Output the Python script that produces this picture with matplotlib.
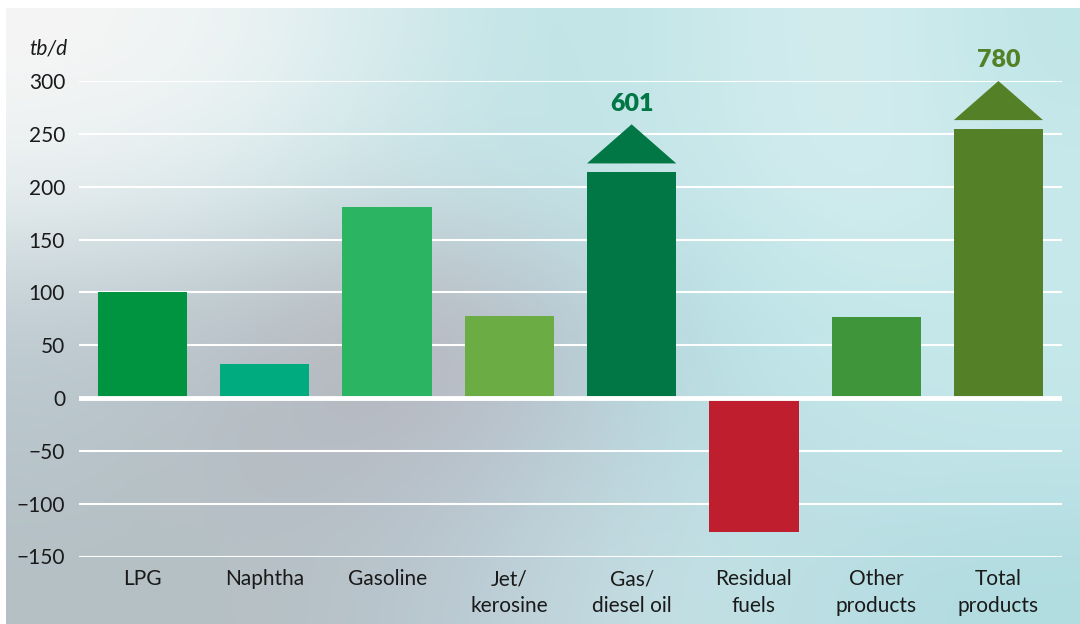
import matplotlib
matplotlib.use('Agg')
import matplotlib.pyplot as plt
import numpy as np
from matplotlib.colors import to_rgb

# data (tb/d); the two tall bars are drawn cut off, real totals in labels
products = ['LPG', 'Naphtha', 'Gasoline', 'Jet/\nkerosine', 'Gas/\ndiesel oil',
            'Residual\nfuels', 'Other\nproducts', 'Total\nproducts']
values = [100, 32, 181, 78, 214, -127, 77, 255]
bar_colors = ['#009340', '#00ab80', '#2bb461', '#6bad44', '#007745',
              '#be1e2e', '#3f9539', '#548127']
broken = {4: 601, 7: 780}

plt.rcParams['font.family'] = ['Lato', 'DejaVu Sans']

fig = plt.figure(figsize=(10.8, 6.24), dpi=100)

# background gradient (rows top->bottom)
bg = [
    ['#f6f5f5', '#eef4f4', '#d6ebed', '#bfe3e6', '#c8e8ea', '#d8eef0', '#c0e6e8'],
    ['#e8f0f1', '#dcecee', '#c6e0e4', '#c3e3e6', '#c6e7ea', '#d6edef', '#c9e9eb'],
    ['#bfccd2', '#b8c3ca', '#b6b3b8', '#bac0cb', '#b5e2e6', '#c5e8ea', '#c5e8ea'],
    ['#b9c6cc', '#b6bdc3', '#b6bac3', '#bac8d2', '#bcdde2', '#c3e4e8', '#c4e6ea'],
    ['#b4c0c4', '#b6c0c4', '#b8c4cc', '#c0d4dc', '#c4e2e6', '#b8dde2', '#b0dce0'],
]
bg_arr = np.array([[to_rgb(c) for c in row] for row in bg])
axbg = fig.add_axes([6/1080, 0, 1 - 6/1080, 1 - 8/624])
axbg.imshow(bg_arr, aspect='auto', interpolation='bicubic', extent=[0, 1, 0, 1])
axbg.set_axis_off()

ax = fig.add_axes([79/1080, (624-556.5)/624, (1062-79)/1080, (556.5-81)/624])
ax.patch.set_alpha(0)
for s in ax.spines.values():
    s.set_visible(False)

x = np.arange(len(products))
w = 0.73
ax.bar(x, values, width=w, color=bar_colors, zorder=2)

for i, total in broken.items():
    base = values[i] + 8
    top = base + 37
    ax.fill([x[i] - w/2, x[i] + w/2, x[i]], [base, base, top],
            color=bar_colors[i], zorder=2, clip_on=False, lw=0)
    ax.annotate(str(total), (x[i], top), xytext=(0, 7), textcoords='offset points',
                ha='center', va='bottom', fontsize=18, fontweight='heavy',
                color=bar_colors[i], annotation_clip=False)

ax.set_xlim(-0.52, len(products) - 0.48)
ax.set_ylim(-150, 300)
ax.set_yticks(np.arange(-150, 301, 50))
ax.set_yticklabels([str(t).replace('-', '\u2212') for t in range(-150, 301, 50)])
ax.yaxis.grid(True, color='white', lw=1.5, zorder=1)
ax.set_axisbelow(True)
ax.axhline(0, color='white', lw=3.5, zorder=3)

ax.set_xticks(x)
ax.set_xticklabels(products, linespacing=1.45)
ax.tick_params(axis='both', length=0, labelsize=15, colors='#1a1a1a')
ax.tick_params(axis='y', pad=10)
ax.tick_params(axis='x', pad=9)

fig.text(67/1080, 1 - 49/624, 'tb/d', ha='right', va='center', fontsize=15,
         style='italic', color='#1a1a1a')

fig.savefig('out.png', dpi=100)
